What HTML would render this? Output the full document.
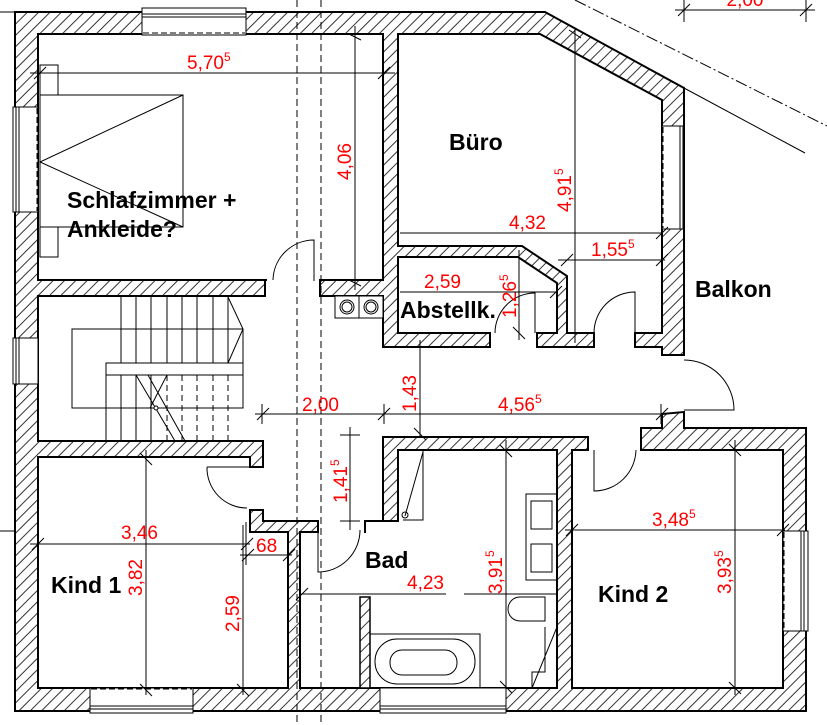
<!DOCTYPE html>
<html><head><meta charset="utf-8"><style>
html,body{margin:0;padding:0;background:#fff;}
svg{display:block;}
.r{fill:#f00;font-family:"Liberation Sans",sans-serif;font-size:19px;}
.b{fill:#000;font-family:"Liberation Sans",sans-serif;font-size:23px;font-weight:bold;}
.d{stroke:#000;stroke-width:1;fill:none;}
.t{stroke:#000;stroke-width:1;}
</style></head><body>
<svg width="827" height="725" viewBox="0 0 827 725" xmlns="http://www.w3.org/2000/svg">
<defs>
<pattern id="h" patternUnits="userSpaceOnUse" width="8" height="8" patternTransform="rotate(-45)">
<rect width="8" height="8" fill="#fff"/><line x1="0" y1="4" x2="8" y2="4" stroke="#000" stroke-width="0.8"/>
</pattern>
</defs>
<line x1="575" y1="0" x2="827" y2="126" stroke="#000" stroke-width="1" stroke-dasharray="12,3,2,3"/>
<line x1="684" y1="88" x2="805" y2="153" stroke="#000" stroke-width="1"/>
<line x1="675" y1="10" x2="815" y2="10" class="d"/>
<line x1="684" y1="0" x2="684" y2="22" class="d"/><line x1="806" y1="0" x2="806" y2="22" class="d"/>
<line x1="678" y1="16" x2="690" y2="4" class="d"/><line x1="800" y1="16" x2="812" y2="4" class="d"/>
<text x="745" y="6" class="r" text-anchor="middle">2,00</text>
<line x1="0" y1="12" x2="15" y2="12" class="d"/>
<line x1="0" y1="531" x2="15" y2="531" class="d"/>

<polygon points="15,12 545,12 684,88 684,428 806,428 806,711 15,711" fill="url(#h)" stroke="#000" stroke-width="2"/>

<g fill="#fff" stroke="#000" stroke-width="2">
<polygon points="38,34 383,34 383,280 38,280"/>
<polygon points="398,34 540,34 662,100 662,333 567,333 567,276 522,246 398,246"/>
<polygon points="398,257 518,257 557,283 557,333 398,333"/>
<polygon points="38,296 265,296 265,280 320,280 320,296 383,296 383,347 490,347 490,333 537,333 537,347 594,347 594,333 635,333 635,347 662,347 662,355 684,355 684,412 662,414 662,428 641,428 641,450 588,450 588,437 383,437 383,521 365,521 365,532 318,532 318,521 263,521 263,510 250,510 250,467 263,467 263,441 38,441"/>
<polygon points="38,457 250,457 250,532 288,532 288,688 38,688"/>
<polygon points="398,450 557,450 557,688 300,688 300,532 365,532 365,521 398,521"/>
<polygon points="572,450 783,450 783,688 572,688"/>
</g>
<g fill="#fff">
<rect x="267" y="279" width="52" height="18"/>
<rect x="491" y="332" width="45" height="16"/>
<rect x="595" y="332" width="39" height="16"/>
<rect x="663" y="356" width="22" height="55"/>
<rect x="589" y="436" width="51" height="15"/>
<rect x="249" y="468" width="15" height="41"/>
<rect x="319" y="520" width="45" height="13"/>
</g>
<rect x="360" y="597" width="10" height="91" fill="url(#h)" stroke="#000" stroke-width="1.5"/>

<rect x="335" y="296" width="48" height="22" fill="#fff" stroke="#000"/>
<line x1="359" y1="296" x2="359" y2="318" class="d"/>
<circle cx="347" cy="307" r="7" class="d"/><circle cx="347" cy="307" r="5" class="d"/>
<circle cx="371" cy="307" r="7" class="d"/><circle cx="371" cy="307" r="5" class="d"/>

<g fill="#fff" stroke="#000" stroke-width="1">
<rect x="142" y="8" width="104" height="27"/>
<rect x="13" y="107" width="25" height="105"/>
<rect x="13" y="338" width="25" height="46"/>
<rect x="662" y="126" width="22" height="103"/>
<rect x="90" y="688" width="103" height="25"/>
<rect x="380" y="688" width="126" height="25"/>
<rect x="783" y="531" width="25" height="100"/>
</g>
<g stroke="#000" stroke-width="1" fill="none">
<line x1="142" y1="14" x2="246" y2="14"/><line x1="142" y1="17" x2="246" y2="17"/><line x1="143" y1="33" x2="245" y2="33" stroke-dasharray="6,3"/>
<line x1="16" y1="107" x2="16" y2="212"/><line x1="19" y1="107" x2="19" y2="212"/><line x1="37" y1="108" x2="37" y2="211" stroke-dasharray="6,3"/>
<line x1="16" y1="338" x2="16" y2="384"/><line x1="19" y1="338" x2="19" y2="384"/>
<line x1="680" y1="126" x2="680" y2="229"/><line x1="683" y1="126" x2="683" y2="229"/><line x1="663" y1="127" x2="663" y2="228" stroke-dasharray="6,3"/>
<line x1="90" y1="709" x2="193" y2="709"/><line x1="90" y1="706" x2="193" y2="706"/><line x1="91" y1="689" x2="192" y2="689" stroke-dasharray="6,3"/>
<line x1="380" y1="709" x2="506" y2="709"/><line x1="380" y1="706" x2="506" y2="706"/>
<line x1="804" y1="531" x2="804" y2="631"/><line x1="801" y1="531" x2="801" y2="631"/><line x1="784" y1="532" x2="784" y2="630" stroke-dasharray="6,3"/>
</g>

<line x1="297" y1="0" x2="297" y2="725" stroke="#000" stroke-dasharray="7,4"/>
<line x1="321" y1="0" x2="321" y2="725" stroke="#000" stroke-dasharray="7,4"/>

<g class="d">
<rect x="40" y="65" width="18" height="192"/>
<rect x="40" y="95" width="143" height="132" fill="#fff"/>
<polyline points="183,95 40,162 183,227"/>
</g>

<g class="d">
<rect x="72" y="329" width="171" height="79"/>
<rect x="106" y="363" width="137" height="12" fill="#fff"/>
<line x1="106" y1="375" x2="106" y2="441"/>
<line x1="121" y1="297" x2="121" y2="363"/><line x1="136" y1="297" x2="136" y2="363"/><line x1="151" y1="297" x2="151" y2="363"/><line x1="167" y1="297" x2="167" y2="363"/><line x1="182" y1="297" x2="182" y2="363"/><line x1="197" y1="297" x2="197" y2="363"/><line x1="213" y1="297" x2="213" y2="363"/><line x1="228" y1="297" x2="228" y2="363"/>
<polyline points="228,297 243,329 228,363"/>
<line x1="121" y1="375" x2="121" y2="441"/><line x1="136" y1="375" x2="136" y2="441"/><line x1="151" y1="375" x2="151" y2="441"/>
<line x1="167" y1="375" x2="167" y2="441" stroke-dasharray="6,4"/><line x1="182" y1="375" x2="182" y2="441" stroke-dasharray="6,4"/><line x1="197" y1="375" x2="197" y2="441" stroke-dasharray="6,4"/><line x1="213" y1="375" x2="213" y2="441" stroke-dasharray="6,4"/><line x1="228" y1="375" x2="228" y2="441" stroke-dasharray="6,4"/>
<line x1="136" y1="408" x2="243" y2="408" stroke-dasharray="6,4"/>
<line x1="136" y1="375" x2="175" y2="441"/><line x1="148" y1="375" x2="185" y2="441"/>
<line x1="167" y1="375" x2="150" y2="408"/>
<circle cx="156" cy="408" r="2" fill="#fff"/>
</g>

<g class="d">
<path d="M273,280 A41,41 0 0 1 314,240 L314,281"/>
<path d="M495,333 A40,40 0 0 1 535,293 L535,333"/>
<path d="M594,333 A41,41 0 0 1 635,292 L635,333"/>
<path d="M684,360 A50,50 0 0 1 734,410 L684,410"/>
<path d="M207,467 A40,40 0 0 0 247,508 M207,467 L250,467"/>
<path d="M360,530 A42,42 0 0 1 318,572 L318,530"/>
<path d="M636,450 A42,42 0 0 1 594,491 L594,450"/>
</g>

<g class="d">
<rect x="526" y="494" width="31" height="86"/>
<rect x="531" y="501" width="21" height="28"/><rect x="531" y="544" width="21" height="28"/>
<path d="M545,597 L520,597 A12,12 0 0 0 520,621 L545,621 Z"/>
<polyline points="545,627 545,672 532,672 532,688"/>
<line x1="532" y1="688" x2="557" y2="627"/>
<rect x="370" y="634" width="110" height="54"/>
<rect x="375" y="639" width="100" height="45" rx="22"/>
<rect x="390" y="650" width="67" height="25" rx="12"/>
<polyline points="398,450 423,450 423,520 403,520"/>
<line x1="423" y1="452" x2="405" y2="516"/>
<circle cx="405" cy="515" r="3"/>
</g>

<g class="d">
<line x1="30" y1="73" x2="395" y2="73"/><line x1="34" y1="79" x2="46" y2="67"/><line x1="378" y1="79" x2="390" y2="67"/>
<line x1="355" y1="26" x2="355" y2="290"/><line x1="349" y1="34" x2="361" y2="40"/><line x1="349" y1="280" x2="361" y2="286"/>
<line x1="575" y1="28" x2="575" y2="343"/><line x1="569" y1="30" x2="581" y2="38"/>
<line x1="400" y1="233" x2="662" y2="233"/><line x1="656" y1="239" x2="668" y2="227"/>
<line x1="558" y1="260" x2="665" y2="260"/><line x1="561" y1="266" x2="573" y2="254"/><line x1="656" y1="266" x2="668" y2="254"/>
<line x1="400" y1="292" x2="557" y2="292"/><line x1="550" y1="298" x2="562" y2="286"/>
<line x1="519" y1="250" x2="519" y2="340"/><line x1="513" y1="292" x2="525" y2="292"/><line x1="513" y1="327" x2="525" y2="339"/>
<line x1="255" y1="414" x2="665" y2="414"/><line x1="257" y1="420" x2="269" y2="408"/><line x1="378" y1="420" x2="390" y2="408"/><line x1="656" y1="420" x2="668" y2="408"/>
<line x1="262" y1="404" x2="262" y2="424"/><line x1="384" y1="404" x2="384" y2="424"/><line x1="661" y1="404" x2="661" y2="424"/>
<line x1="420" y1="340" x2="420" y2="437"/><line x1="414" y1="428" x2="426" y2="440"/>
<line x1="350" y1="427" x2="350" y2="530"/><line x1="340" y1="435" x2="360" y2="435"/><line x1="340" y1="521" x2="360" y2="521"/>
<line x1="30" y1="544" x2="250" y2="544"/><line x1="32" y1="550" x2="44" y2="538"/><line x1="241" y1="550" x2="253" y2="538"/>
<line x1="146" y1="450" x2="146" y2="695"/><line x1="140" y1="453" x2="152" y2="465"/><line x1="140" y1="684" x2="152" y2="696"/>
<line x1="240" y1="555" x2="292" y2="555"/><line x1="242" y1="561" x2="254" y2="549"/><line x1="283" y1="561" x2="295" y2="549"/>
<line x1="246" y1="522" x2="246" y2="565"/>
<line x1="243" y1="525" x2="243" y2="695"/><line x1="237" y1="684" x2="249" y2="696"/>
<line x1="300" y1="594" x2="446" y2="594"/><line x1="464" y1="594" x2="557" y2="594"/><line x1="296" y1="600" x2="308" y2="588"/>
<line x1="506" y1="440" x2="506" y2="695"/><line x1="500" y1="445" x2="512" y2="457"/><line x1="500" y1="681" x2="512" y2="693"/>
<line x1="565" y1="530" x2="785" y2="530"/><line x1="566" y1="536" x2="578" y2="524"/><line x1="777" y1="536" x2="789" y2="524"/>
<line x1="735" y1="440" x2="735" y2="695"/><line x1="729" y1="444" x2="741" y2="456"/><line x1="729" y1="682" x2="741" y2="694"/>
</g>

<text x="187" y="69" class="r">5,70<tspan font-size="12" dy="-8">5</tspan></text>
<text class="r" transform="translate(351,180) rotate(-90)">4,06</text>
<text class="r" transform="translate(571,212) rotate(-90)">4,91<tspan font-size="12" dy="-8">5</tspan></text>
<text x="509" y="229" class="r">4,32</text>
<text x="591" y="256" class="r">1,55<tspan font-size="12" dy="-8">5</tspan></text>
<text x="424" y="288" class="r">2,59</text>
<text class="r" transform="translate(516,318) rotate(-90)">1,26<tspan font-size="12" dy="-8">5</tspan></text>
<text x="302" y="411" class="r">2,00</text>
<text class="r" transform="translate(416,412) rotate(-90)">1,43</text>
<text x="498" y="411" class="r">4,56<tspan font-size="12" dy="-8">5</tspan></text>
<text class="r" transform="translate(347,503) rotate(-90)">1,41<tspan font-size="12" dy="-8">5</tspan></text>
<text x="121" y="539" class="r">3,46</text>
<text class="r" transform="translate(142,596) rotate(-90)">3,82</text>
<text x="256" y="552" class="r">68</text>
<text class="r" transform="translate(239,632) rotate(-90)">2,59</text>
<text x="407" y="589" class="r">4,23</text>
<text class="r" transform="translate(502,594) rotate(-90)">3,91<tspan font-size="12" dy="-8">5</tspan></text>
<text x="652" y="526" class="r">3,48<tspan font-size="12" dy="-8">5</tspan></text>
<text class="r" transform="translate(731,594) rotate(-90)">3,93<tspan font-size="12" dy="-8">5</tspan></text>

<text x="449" y="150" class="b">Büro</text>
<text x="67" y="208" class="b">Schlafzimmer +</text>
<text x="67" y="237" class="b">Ankleide?</text>
<text x="400" y="318" class="b">Abstellk.</text>
<text x="695" y="297" class="b">Balkon</text>
<text x="365" y="568" class="b">Bad</text>
<text x="51" y="593" class="b">Kind 1</text>
<text x="598" y="602" class="b">Kind 2</text>
</svg>
</body></html>
